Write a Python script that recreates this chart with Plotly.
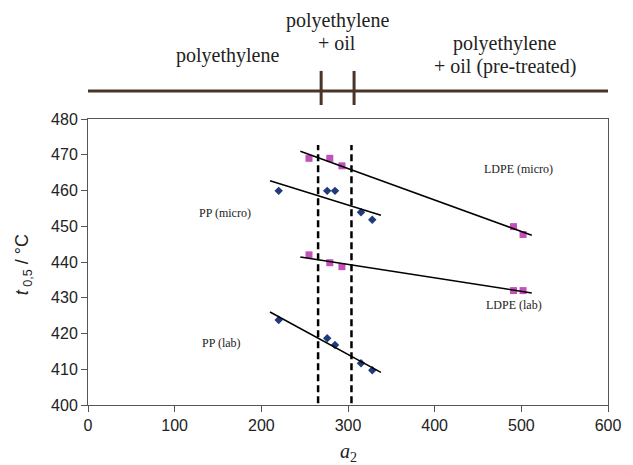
import numpy as np
import plotly.graph_objects as go

# Decomposition temperature t0,5 versus a2 for four sample sets
pp_micro_x = [220, 276, 285, 315, 328]
pp_micro_y = [459.9, 459.9, 459.9, 453.9, 451.8]

pp_lab_x = [220, 276, 285, 315, 328]
pp_lab_y = [423.8, 418.7, 416.8, 411.7, 409.7]

ldpe_micro_x = [255, 279, 293, 491, 502]
ldpe_micro_y = [469.0, 469.0, 466.9, 449.9, 447.7]

ldpe_lab_x = [255, 279, 293, 491, 502]
ldpe_lab_y = [442.0, 439.8, 438.7, 432.0, 432.0]

# Region boundaries on the a2 axis
boundaries = [265.5, 304]
region_ticks = [269, 307]

x_ticks = [0, 100, 200, 300, 400, 500, 600]
y_ticks = [400, 410, 420, 430, 440, 450, 460, 470, 480]

DIAMOND = "#1f3b7c"
SQUARE = "#c450bc"
TREND_EXT = 10  # trendline forward/backward extension in a2 units

fig = go.Figure()


def add_series(xs, ys, symbol, color, size):
    fig.add_trace(go.Scatter(
        x=xs, y=ys, mode="markers",
        marker=dict(symbol=symbol, color=color, size=size, line=dict(width=0)),
        showlegend=False, hoverinfo="skip"))
    slope, intercept = np.polyfit(xs, ys, 1)
    tx = np.array([min(xs) - TREND_EXT, max(xs) + TREND_EXT])
    fig.add_trace(go.Scatter(
        x=tx, y=slope * tx + intercept, mode="lines",
        line=dict(color="black", width=1.5),
        showlegend=False, hoverinfo="skip"))


add_series(ldpe_micro_x, ldpe_micro_y, "square", SQUARE, 7)
add_series(pp_micro_x, pp_micro_y, "diamond", DIAMOND, 6.5)
add_series(ldpe_lab_x, ldpe_lab_y, "square", SQUARE, 7)
add_series(pp_lab_x, pp_lab_y, "diamond", DIAMOND, 6.5)

# Dashed region boundaries inside the plot
for bx in boundaries:
    fig.add_shape(type="line", xref="x", yref="y", x0=bx, x1=bx, y0=400.5, y1=472.7,
                  line=dict(color="black", width=2.5, dash="7px,4px"))

# Region bar above the plot
fig.add_shape(type="line", xref="x", yref="paper", x0=0, x1=607, y0=1.098, y1=1.098,
              line=dict(color="#4a3428", width=3))
for tx in region_ticks:
    fig.add_shape(type="line", xref="x", yref="paper", x0=tx, x1=tx, y0=1.049, y1=1.168,
                  line=dict(color="#4a3428", width=3))

serif = "Liberation Serif, Times New Roman, serif"
region_font = dict(family=serif, size=20, color="#222")
region_lines = [
    (161.5, 1.221, "polyethylene"),
    (287.5, 1.345, "polyethylene"),
    (287.5, 1.264, "+ oil"),
    (481, 1.264, "polyethylene"),
    (481, 1.184, "+ oil (pre-treated)"),
]
for rx, ry, txt in region_lines:
    fig.add_annotation(x=rx, y=ry, xref="x", yref="paper", text=txt, showarrow=False,
                       font=region_font, xanchor="center", yanchor="middle")

label_font = dict(family=serif, size=12, color="#222")
fig.add_annotation(x=158, y=453.7, text="PP (micro)", showarrow=False, font=label_font)
fig.add_annotation(x=154, y=417.3, text="PP (lab)", showarrow=False, font=label_font)
fig.add_annotation(x=497, y=465.9, text="LDPE (micro)", showarrow=False, font=label_font)
fig.add_annotation(x=492, y=428.0, text="LDPE (lab)", showarrow=False, font=label_font)

# Axis titles
fig.add_annotation(x=-0.1224, y=0.49, xref="paper", yref="paper",
                   text="<i>t</i><sub> 0,5</sub> / °C", textangle=-90, showarrow=False,
                   font=dict(family="Liberation Sans, Arial, sans-serif", size=18, color="#222"),
                   xanchor="center", yanchor="middle")
fig.add_annotation(x=0.5, y=-0.165, xref="paper", yref="paper",
                   text="<i>a</i><sub>2</sub>", showarrow=False,
                   font=dict(family=serif, size=20, color="#222"),
                   xanchor="center", yanchor="middle")

axis_common = dict(showgrid=False, zeroline=False, showline=True, linecolor="#555",
                   linewidth=1, mirror=True, ticks="outside", ticklen=6, tickcolor="#555",
                   tickfont=dict(family="Liberation Sans, Arial, sans-serif", size=16,
                                 color="#222"))
fig.update_xaxes(range=[0, 600], tickvals=x_ticks, **axis_common)
fig.update_yaxes(range=[400, 480], tickvals=y_ticks, **axis_common)

fig.update_layout(width=633, height=465, margin=dict(l=88, r=14, t=119, b=60),
                  plot_bgcolor="white", paper_bgcolor="white")

fig.write_html("out.html")
